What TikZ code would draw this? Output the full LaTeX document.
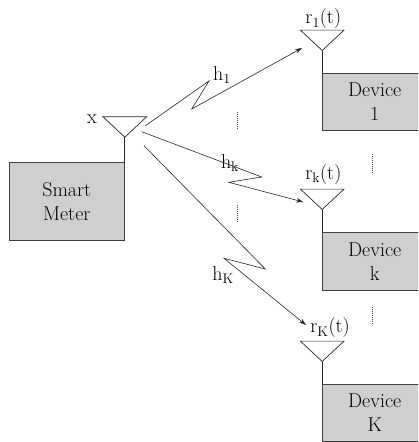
\documentclass[tikz,border=0pt]{standalone}
\usepackage{tikz}
\usetikzlibrary{positioning,arrows.meta}

\begin{document}
\begin{tikzpicture}[x=1pt, y=-1pt, >={Stealth[length=7pt,width=4.5pt]},
  every node/.style={font=\fontsize{20}{24}\selectfont, inner sep=0pt}]
\tikzstyle{unit}=[rectangle, draw=black!75, fill=black!19, line width=1pt, align=center]
\tikzstyle{antenna}=[draw=black!85, line width=0.7pt]
\tikzstyle{link}=[draw=black!85, line width=0.6pt]
\tikzstyle{gap}=[draw=black!70, line width=0.6pt, dash pattern=on 0.8pt off 1.2pt]
\useasboundingbox (0,0) rectangle (418,442);
\clip (0,0) rectangle (418,442);

% meter and devices
\node[unit, minimum width=115pt, minimum height=78pt] (meter) at (66.8,201.2) {Smart\\Meter};
\node[unit, minimum width=104pt, minimum height=57pt] (dev1) at (374.7,101.8) {Device\\1};
\node[unit, minimum width=104pt, minimum height=58pt] (devk) at (374.7,261.3) {Device\\k};
\node[unit, minimum width=104pt, minimum height=57pt] (devK) at (374.7,412.8) {Device\\K};

% antennas sit on the box corners
\coordinate (tx)  at ([yshift=24.5pt]meter.north east);
\coordinate (rx1) at ([yshift=22.3pt]dev1.north west);
\coordinate (rxk) at ([yshift=22.3pt]devk.north west);
\coordinate (rxK) at ([yshift=22.3pt]devK.north west);
\draw[antenna] (tx) -- (meter.north east);
\draw[antenna] (rx1) -- (dev1.north west);
\draw[antenna] (rxk) -- (devk.north west);
\draw[antenna] (rxK) -- (devK.north west);
\foreach \a in {tx,rx1,rxk,rxK}
  \draw[antenna] (\a) -- ++(-21.8,-20.4) -- ++(43.6,0) -- cycle;

% signal labels
\node (lx) at (92,119) {x};
\node (lr1) at (323.3,19) {r\textsubscript{1}(t)};
\node (lrk) at (323.3,174.5) {r\textsubscript{k}(t)};
\node (lrK) at (330,328) {r\textsubscript{K}(t)};
\node (h1) at (222,75) {h\textsubscript{1}};
\node (hk) at (230,163) {h\textsubscript{k}};
\node (hK) at (223,275) {h\textsubscript{K}};

% channels
\coordinate (s1) at (145,126);   \coordinate (z1a) at (209,81);
\coordinate (z1b) at (191.7,109); \coordinate (e1) at (302,48);
\coordinate (sk) at (141.7,131.7); \coordinate (zka) at (261.7,177);
\coordinate (zkb) at (228.8,182.3); \coordinate (ek) at (303.3,202);
\coordinate (sK) at (144,145.7);  \coordinate (zKa) at (265.3,269);
\coordinate (zKb) at (224,258.3); \coordinate (eK) at (306,325);
\draw[link,->] (s1) -- (z1a) -- (z1b) -- (e1);
\draw[link,->] (sk) -- (zka) -- (zkb) -- (ek);
\draw[link,->] (sK) -- (zKa) -- (zKb) -- (eK);

% dots between the users
\draw[gap] (237.3,111.7) -- (237.3,129.3);
\draw[gap] (237.3,205) -- (237.3,222.7);
\draw[gap] (372.7,154) -- (372.7,172.7);
\draw[gap] (372.7,307) -- (372.7,325);
\end{tikzpicture}
\end{document}
